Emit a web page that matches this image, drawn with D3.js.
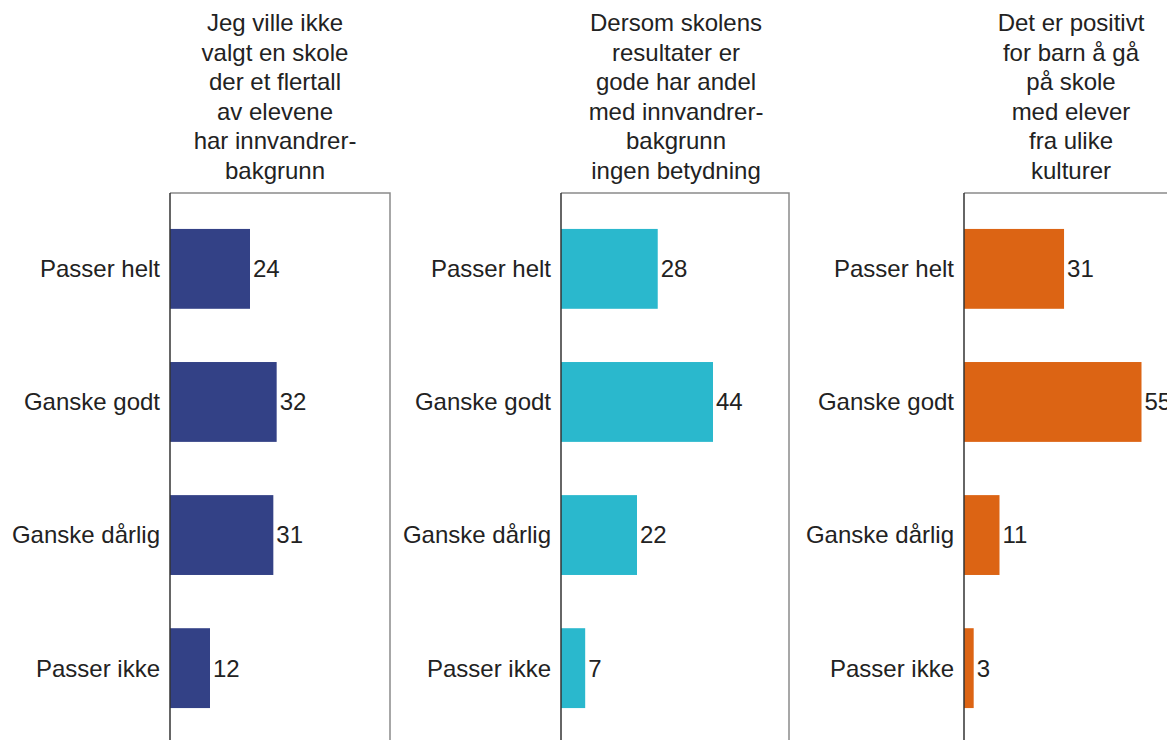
<!DOCTYPE html>
<html>
<head>
<meta charset="utf-8">
<script src="https://cdn.jsdelivr.net/npm/d3@7"></script>
<style>
  body { margin: 0; background: #fff; }
  svg { font-family: "Liberation Sans", Arial, sans-serif; }
</style>
</head>
<body>
<div id="chart"></div>
<script>
const categories = ["Passer helt", "Ganske godt", "Ganske dårlig", "Passer ikke"];

const titles = [
  ["Jeg ville ikke", "valgt en skole", "der et flertall", "av elevene", "har innvandrer-", "bakgrunn"],
  ["Dersom skolens", "resultater er", "gode har andel", "med innvandrer-", "bakgrunn", "ingen betydning"],
  ["Det er positivt", "for barn å gå", "på skole", "med elever", "fra ulike", "kulturer"]
];

const valuesA = [24, 32, 31, 12];
const valuesB = [28, 44, 22, 7];
const valuesC = [31, 55, 11, 3];

const colors = ["#334186", "#2ab8cd", "#dc6414"];

const width = 1167, height = 740;
const fontSize = 24;

const svg = d3.select("#chart")
  .append("svg")
  .attr("width", width)
  .attr("height", height);

const panels = [
  { left: 170, width: 220, titleX: 105, values: valuesA },
  { left: 561, width: 228, titleX: 115, values: valuesB },
  { left: 964, width: 213, titleX: 107, values: valuesC }
];

const plotTop = 193, plotBottom = 744;

const yScale = d3.scaleBand()
  .domain(categories)
  .range([plotTop, plotBottom])
  .paddingInner(0.4)
  .paddingOuter(0.27);

panels.forEach((p, i) => {
  const g = svg.append("g")
    .attr("transform", `translate(${p.left},0)`);

  const xScale = d3.scaleLinear()
    .domain([0, 66])
    .range([0, p.width]);

  // frame: top and right in grey, left axis dark
  g.append("path")
    .attr("d", `M0,${plotTop}H${p.width}V${height + 10}`)
    .attr("fill", "none")
    .attr("stroke", "#8a8a8a")
    .attr("stroke-width", 1.5);

  g.selectAll("rect.bar")
    .data(p.values)
    .join("rect")
    .attr("class", "bar")
    .attr("x", 0)
    .attr("y", (d, j) => yScale(categories[j]))
    .attr("width", d => xScale(d))
    .attr("height", yScale.bandwidth())
    .attr("fill", colors[i]);

  g.append("line")
    .attr("x1", 0).attr("x2", 0)
    .attr("y1", plotTop).attr("y2", height + 10)
    .attr("stroke", "#333")
    .attr("stroke-width", 1.5);

  g.selectAll("text.val")
    .data(p.values)
    .join("text")
    .attr("class", "val")
    .attr("x", d => xScale(d) + 3)
    .attr("y", (d, j) => yScale(categories[j]) + yScale.bandwidth() / 2)
    .attr("dy", "0.35em")
    .attr("font-size", fontSize)
    .attr("fill", "#222")
    .text(d => d);

  g.selectAll("text.cat")
    .data(categories)
    .join("text")
    .attr("class", "cat")
    .attr("x", -10)
    .attr("y", d => yScale(d) + yScale.bandwidth() / 2)
    .attr("dy", "0.35em")
    .attr("text-anchor", "end")
    .attr("font-size", fontSize)
    .attr("fill", "#222")
    .text(d => d);

  const lines = titles[i];
  g.append("text")
    .attr("text-anchor", "middle")
    .attr("font-size", fontSize)
    .attr("fill", "#222")
    .selectAll("tspan")
    .data(lines)
    .join("tspan")
    .attr("x", p.titleX)
    .attr("y", (d, k) => 179 - (lines.length - 1 - k) * 29.6)
    .text(d => d);
});
</script>
</body>
</html>
